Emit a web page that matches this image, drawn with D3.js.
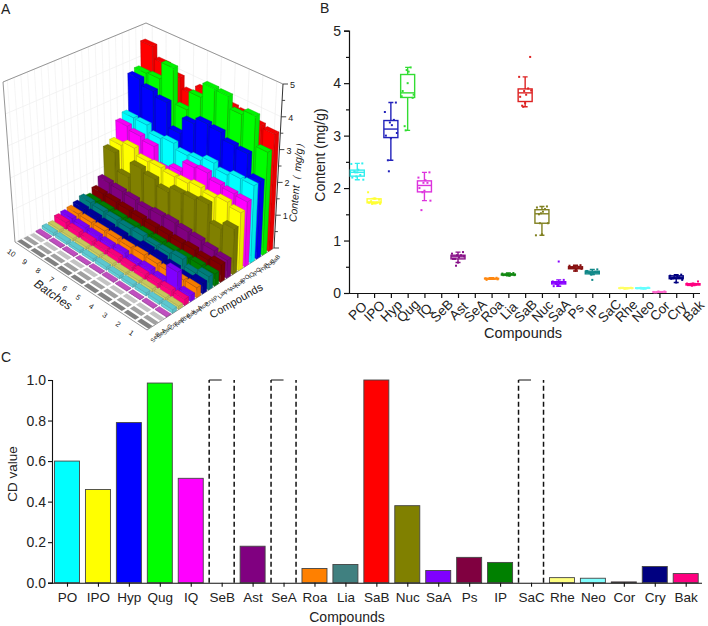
<!DOCTYPE html>
<html><head><meta charset="utf-8">
<script src="https://cdn.jsdelivr.net/npm/d3@7"></script>
<style>html,body{margin:0;padding:0;background:#fff}svg{display:block}text{font-family:"Liberation Sans",Arial,sans-serif;fill:#222}</style>
</head><body><svg id="c" width="708" height="626"></svg>
<script>
const compounds=["PO","IPO","Hyp","Qug","IQ","SeB","Ast","SeA","Roa","Lia","SaB","Nuc","SaA","Ps","IP","SaC","Rhe","Neo","Cor","Cry","Bak"];
const batches=[10,9,8,7,6,5,4,3,2,1];
// batch 10 -> batch 1
const PO=[2.47,2.46,2.25,2.32,2.16,2.22,2.35,2.2,2.3,2.3];
const IPO=[1.78,1.92,1.72,1.75,1.7,1.72,1.8,1.72,1.8,1.7];
const Hyp=[3.63,3.45,3.3,2.53,3.05,3.25,3.2,3.0,2.95,2.32];
const Qug=[3.72,3.75,4.3,3.18,3.78,4.25,4.22,3.85,4.0,3.1];
const IQ=[2.3,2.2,2.1,1.58,1.76,2.1,2.15,2.0,1.95,1.92];
const SeB=[0,0,0,0,0,0,0,0,0,0];
const Ast=[.78,.75,.72,.65,.7,.72,.68,.65,.58,.52];
const SeA=[0,0,0,0,0,0,0,0,0,0];
const Roa=[.29,.28,.27,.27,.26,.28,.27,.25,.27,.28];
const Lia=[.38,.37,.36,.35,.34,.35,.33,.34,.36,.35];
const SaB=[4.5,4.12,3.9,3.57,3.86,3.85,3.78,3.74,3.62,3.55];
const Nuc=[1.65,1.1,1.6,1.5,1.33,1.52,1.55,1.63,1.12,1.33];
const SaA=[.25,.22,.2,.18,.2,.15,.19,.13,.6,.17];
const Ps=[.53,.52,.5,.48,.46,.47,.45,.48,.42,.5];
const IP=[.45,.42,.4,.38,.4,.35,.36,.42,.25,.38];
const SaC=[0,0,0,0,0,0,0,0,0,0];
const Rhe=[.1,.09,.09,.1,.09,.08,.09,.1,.09,.09];
const Neo=[.1,.09,.08,.09,.1,.09,.08,.09,.09,.1];
const Cor=[.03,.02,.02,.01,.02,.03,.02,.01,.02,.02];
const Cry=[.35,.33,.3,.28,.25,.34,.32,.27,.2,.3];
const Bak=[.22,.18,.16,.15,.17,.14,.16,.15,.18,.17];
const contents={PO,IPO,Hyp,Qug,IQ,SeB,Ast,SeA,Roa,Lia,SaB,Nuc,SaA,Ps,IP,SaC,Rhe,Neo,Cor,Cry,Bak};
const depthOrder=["SeB","SeA","SaC","Cor","Neo","Rhe","Bak","SaA","Roa","Cry","IP","Lia","Ps","Ast","Nuc","IPO","IQ","PO","Hyp","Qug","SaB"];
const colors3d={SeB:"#808080",SeA:"#a0a0a0",SaC:"#c4c4c4",Cor:"#c850c8",Neo:"#60d0d8",Rhe:"#d0d060",Bak:"#ff0080",SaA:"#8000ff",Roa:"#ff8000",Cry:"#0000a0",IP:"#008080",Lia:"#008000",Ps:"#800000",Ast:"#800080",Nuc:"#808000",IPO:"#ffff00",IQ:"#ff00ff",PO:"#00ffff",Hyp:"#0000ff",Qug:"#00ff00",SaB:"#ff0000"};
const colorsBox={PO:"#33eeee",IPO:"#ffff33",Hyp:"#2222bb",Qug:"#33dd33",IQ:"#dd33dd",SeB:"#888",Ast:"#881188",SeA:"#888",Roa:"#ff8811",Lia:"#118811",SaB:"#dd2222",Nuc:"#808020",SaA:"#8800ff",Ps:"#881111",IP:"#118888",SaC:"#888",Rhe:"#ffff66",Neo:"#66ffff",Cor:"#ff66cc",Cry:"#000080",Bak:"#ff0080"};
const colorsBar={PO:"#00ffff",IPO:"#ffff00",Hyp:"#0000ff",Qug:"#00ff00",IQ:"#ff00ff",Ast:"#800080",Roa:"#ff8000",Lia:"#408080",SaB:"#ff0000",Nuc:"#808000",SaA:"#8000ff",Ps:"#800040",IP:"#008000",Rhe:"#ffff80",Neo:"#80ffff",Cor:"#ff80c0",Cry:"#000080",Bak:"#ff0080"};
const cdValues=[.6,.46,.79,.985,.515,null,.18,null,.07,.09,1,.38,.06,.125,.1,null,.025,.022,.004,.08,.045];
const jitter=[5,-6,3,-3,6,-1,1,-5,0,-2];
const svg=d3.select("#c");
function letter(t,x,y){svg.append("text").attr("x",x).attr("y",y).attr("font-size",14).text(t);}
letter("A",1,14);letter("B",320,13);letter("C",1,362);

/* ---------- Panel A ---------- */
const A=svg.append("g");
const corners={F:[147,330],L:[15,242],R:[274,248],B:[148,176],TF:[147,145],TL:[3,82],TR:[283,84],TB:[146,23]};
const uS=d3.scalePoint().domain(batches).range([.955,.045]);
const vS=d3.scalePoint().domain(depthOrder).range([.03,.975]);
const hS=d3.scaleLinear().domain([0,5]).range([0,1]);
function bil(a,b,c,d,u,v){return (a*(1-u)+b*u)*(1-v)+(c*(1-u)+d*u)*v;}
function proj(u,v,val){const h=hS(val),c=corners;
  const fx=bil(c.F[0],c.L[0],c.R[0],c.B[0],u,v),fy=bil(c.F[1],c.L[1],c.R[1],c.B[1],u,v);
  const tx=bil(c.TF[0],c.TL[0],c.TR[0],c.TB[0],u,v),ty=bil(c.TF[1],c.TL[1],c.TR[1],c.TB[1],u,v);
  return [fx+(tx-fx)*h,fy+(ty-fy)*h];}
const ln=d3.line();
function seg(a,b,col,w){A.append("path").attr("d",ln([a,b])).attr("stroke",col).attr("stroke-width",w).attr("fill","none");}
hS.ticks(5).forEach(t=>{seg(proj(1,0,t),proj(1,1,t),"#eeeeee",.7);seg(proj(1,1,t),proj(0,1,t),"#eeeeee",.7);});
batches.forEach(b=>{seg(proj(uS(b),1,0),proj(uS(b),1,5),"#eeeeee",.7);});
depthOrder.forEach(c=>{seg(proj(1,vS(c),0),proj(1,vS(c),5),"#f1f1f1",.7);});
const frame="#8a8a8a";
seg(proj(1,0,0),proj(1,0,5),frame,.9);seg(proj(1,0,5),proj(1,1,5),frame,.9);seg(proj(1,1,5),proj(0,1,5),frame,.9);
seg(proj(1,0,0),proj(0,0,0),frame,.9);seg(proj(0,0,0),proj(0,1,0),frame,.9);
const du=.043,dv=.016;
[...depthOrder].reverse().forEach(name=>{
  const col=colors3d[name];
  batches.forEach((b,i)=>{
    const val=contents[name][i],u=uS(b),v=vS(name);
    const P=(uu,vv,h)=>proj(uu,vv,h);
    const g=A.append("g");
    const edge=d3.color(col).darker(.9).formatHex();
    if(val>0){
      g.append("path").attr("d",ln([P(u-du,v-dv,0),P(u-du,v+dv,0),P(u-du,v+dv,val),P(u-du,v-dv,val)])+"Z").attr("fill",d3.color(col).darker(.25).formatHex()).attr("stroke",edge).attr("stroke-width",.5);
      g.append("path").attr("d",ln([P(u+du,v-dv,0),P(u-du,v-dv,0),P(u-du,v-dv,val),P(u+du,v-dv,val)])+"Z").attr("fill",col).attr("stroke",edge).attr("stroke-width",.5);
    }
    g.append("path").attr("d",ln([P(u+du,v-dv,val),P(u-du,v-dv,val),P(u-du,v+dv,val),P(u+du,v+dv,val)])+"Z").attr("fill",val>0?d3.color(col).darker(.12).formatHex():col).attr("stroke",val>0?edge:"none").attr("stroke-width",.4);
  });
});
seg(proj(0,1,0),proj(0,1,5),"#333",1);
hS.ticks(10).forEach(t=>{const p=proj(0,1,t);seg(p,[p[0]+(t%1===0?5:3),p[1]],"#333",.9);
  if(t%1===0&&t>0)A.append("text").attr("x",p[0]+7).attr("y",p[1]+4).attr("font-size",9).text(t);});
A.append("text").attr("transform","translate(300,180) rotate(-85)").attr("text-anchor","middle").attr("font-size",10.5).attr("font-style","italic").text("Content（ mg/g）");
batches.forEach(b=>{const p=proj(uS(b),0,0);
  A.append("text").attr("transform",`translate(${p[0]-11},${p[1]+9}) rotate(35)`).attr("text-anchor","middle").attr("font-size",7.5).attr("fill","#333").text(b);});
A.append("text").attr("transform","translate(51,298) rotate(35)").attr("text-anchor","middle").attr("font-size",12).attr("font-style","italic").text("Batches");
depthOrder.forEach(c=>{const p=proj(0,vS(c),0);
  A.append("text").attr("transform",`translate(${p[0]+6},${p[1]+11}) rotate(-50)`).attr("text-anchor","middle").attr("font-size",6).attr("fill","#444").text(c);});
A.append("text").attr("transform","translate(238,304) rotate(-30)").attr("text-anchor","middle").attr("font-size",11).text("Compounds");

/* ---------- Panel B ---------- */
const B=svg.append("g");
const xB=d3.scalePoint().domain(compounds).range([357.3,693]);
const yB=d3.scaleLinear().domain([0,5]).range([293,30.7]);
const axB=B.append("g").attr("transform","translate(349,0)").call(d3.axisLeft(yB).ticks(10).tickSize(5).tickFormat(d=>d%1===0?d:""));
axB.selectAll("text").attr("font-size",14).attr("x",-8);
axB.selectAll(".tick").filter(d=>d%1!==0).select("line").attr("x2",-3);
const axBx=B.append("g").attr("transform","translate(0,293)").call(d3.axisBottom(xB).tickSize(5).tickSizeOuter(0));
axBx.select(".domain").attr("d","M349,0.5H700");
axBx.selectAll("text").attr("font-size",13.5).attr("text-anchor","middle").attr("dy",null).attr("dominant-baseline","central").attr("y",0).attr("transform","translate(0,18) rotate(-45)");
[axB,axBx].forEach(a=>{a.selectAll("path,line").attr("stroke","#111").attr("stroke-width",1.2);a.selectAll("text").attr("fill","#222").attr("font-family",'"Liberation Sans",Arial,sans-serif');});
B.append("text").attr("transform","translate(325,155) rotate(-90)").attr("text-anchor","middle").attr("font-size",14).text("Content (mg/g)");
B.append("text").attr("x",523).attr("y",338).attr("text-anchor","middle").attr("font-size",14.5).text("Compounds");
compounds.forEach(name=>{
  const vals=contents[name];if(d3.max(vals)===0)return;
  const s=vals.slice().sort(d3.ascending),q1=d3.quantile(s,.25),m=d3.quantile(s,.5),q3=d3.quantile(s,.75),iqr=q3-q1;
  const lo=d3.min(s.filter(d=>d>=q1-1.5*iqr)),hi=d3.max(s.filter(d=>d<=q3+1.5*iqr));
  const x=xB(name),c=colorsBox[name],g=B.append("g").attr("stroke",c).attr("fill","none").attr("stroke-width",1.4);
  g.append("path").attr("d",`M${x},${yB(lo)}V${yB(q1)}M${x},${yB(q3)}V${yB(hi)}M${x-2.5},${yB(lo)}h5M${x-2.5},${yB(hi)}h5`);
  g.append("rect").attr("x",x-7).attr("width",14).attr("y",yB(q3)).attr("height",yB(q1)-yB(q3));
  g.append("path").attr("d",`M${x-7},${yB(m)}h14`);
  vals.forEach((v,i)=>B.append("rect").attr("x",x+jitter[i]-1).attr("y",yB(v)-1).attr("width",2).attr("height",2).attr("fill",c));
});

/* ---------- Panel C ---------- */
const C=svg.append("g");
const xC=d3.scalePoint().domain(compounds).range([67,685.7]);
const yC=d3.scaleLinear().domain([0,1]).range([582.7,380]);
const bw=25;
compounds.forEach((name,i)=>{
  const v=cdValues[i],x=xC(name);
  if(v===null){
    C.append("path").attr("d",`M${x-bw/2},${yC(0)}V${yC(1)}M${x+bw/2},${yC(0)}V${yC(1)}`).attr("stroke","#111").attr("stroke-width",1.5).attr("stroke-dasharray","5 3").attr("fill","none");
    C.append("path").attr("d",`M${x-bw/2},${yC(1)}h${bw/2}`).attr("stroke","#111").attr("stroke-width",1).attr("fill","none");
  } else {
    C.append("rect").attr("x",x-bw/2).attr("width",bw).attr("y",yC(v)).attr("height",yC(0)-yC(v)).attr("fill",colorsBar[name]).attr("stroke","#444").attr("stroke-width",.9);
  }
});
const axC=C.append("g").attr("transform","translate(52,0)").call(d3.axisLeft(yC).ticks(5).tickFormat(d3.format(".1f")).tickSize(4));
axC.selectAll("text").attr("font-size",14).attr("x",-6);
const axCx=C.append("g").attr("transform","translate(0,582.7)").call(d3.axisBottom(xC).tickSize(4).tickSizeOuter(0));
axCx.select(".domain").attr("d","M48,0.5H702");
axCx.selectAll("text").attr("font-size",13.5).attr("y",10);
[axC,axCx].forEach(a=>{a.selectAll("path,line").attr("stroke","#111").attr("stroke-width",1.1);a.selectAll("text").attr("fill","#222").attr("font-family",'"Liberation Sans",Arial,sans-serif');});
C.append("text").attr("transform","translate(17,474) rotate(-90)").attr("text-anchor","middle").attr("font-size",13.5).text("CD value");
C.append("text").attr("x",347).attr("y",622).attr("text-anchor","middle").attr("font-size",14).text("Compounds");
</script></body></html>
